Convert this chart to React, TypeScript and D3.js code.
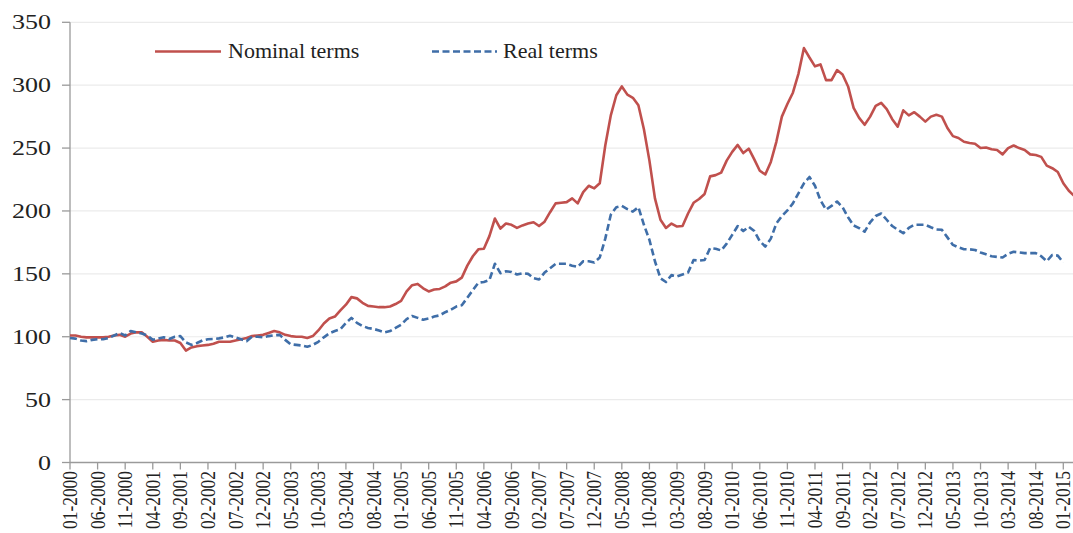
import React from "react";
import * as d3 from "d3";

const nominal: number[] = [
  101, 101, 100, 99.5, 99.5, 99.5, 99.5, 100, 101, 101.5,
  100, 102.5, 103.5, 103.5, 100, 96, 97, 97.5, 97, 97,
  95, 89, 91.5, 92.5, 93, 93.5, 94.5, 96, 96, 96,
  97, 98, 99, 100.5, 101, 101.5, 103, 104.5, 103.5, 101.5,
  100.5, 100, 100, 99, 100.5, 105, 110.5, 114.5, 116, 121,
  125.5, 131.5, 130.5, 127, 124.5, 124, 123.5, 123.5, 124, 126,
  128.5, 136, 141, 142, 138.5, 136, 137.5, 138, 140, 143,
  144, 147, 156.5, 164, 169.5, 170, 180, 194, 186, 190,
  189, 186.5, 188.5, 190, 191, 188, 191.5, 199, 206, 206.5,
  207, 210, 206, 215, 220, 218, 222, 252, 276, 292,
  299, 292.5, 290, 284, 265, 240, 210, 193, 186.5, 190,
  187.6, 188, 198, 206.5, 209.5, 213.5, 227.5, 228.5, 230.5, 240,
  247, 252.5, 246, 249.5, 241, 232, 229, 239, 255, 275,
  285, 294, 309, 329.5, 322, 315, 316.5, 304, 304, 312,
  308.5, 299, 282, 274, 268.5, 275, 283.5, 286, 281, 273,
  267, 280, 276, 278.5, 275, 271, 275, 276.5, 275, 266,
  259.5, 258, 255, 254, 253.5, 250, 250.5, 249, 248.5, 245,
  250, 252, 250, 248.5, 245, 244.5, 243, 236, 234, 231,
  222, 216, 212,
];

const real: number[] = [
  99, 98.5, 97, 96.5, 97.5, 98, 98, 99, 101, 103,
  101, 104.5, 103.5, 102.5, 101, 97.6, 98.5, 99.5, 98.2, 100,
  100.5, 95.5, 93.5, 95, 97, 98, 98.2, 98.7, 99.5, 100.8,
  99.5, 98, 96.5, 100, 100, 99.5, 100.5, 101.2, 101.5, 97.5,
  94, 93.5, 93, 92, 93.5, 96, 99.5, 102.7, 104.5, 106,
  111, 115, 111, 108.5, 107, 106.2, 105, 103.5, 104.5, 107,
  109.5, 114, 116.5, 115, 113.5, 114.5, 116, 117, 119.5, 121.5,
  124, 125, 131, 137, 143, 143.5, 145, 158, 150.5, 152,
  151.5, 149.5, 150.5, 150, 146.5, 145.5, 151, 154.5, 158, 158,
  158, 156.5, 155.5, 160, 160, 159, 163, 178, 197, 203,
  204, 201.5, 199.5, 203, 189, 177, 160, 146.5, 143.5, 149,
  148, 149.5, 151, 161, 160.5, 161, 170.5, 170, 168.6, 174,
  181, 188, 184, 187.5, 184, 176, 171.7, 178, 190, 196,
  200.5, 206, 214, 222, 227, 220, 208.5, 201, 204, 207.5,
  203, 195, 188.5, 186.3, 183.5, 191, 196, 198, 193, 188,
  185, 182.3, 186.5, 189, 189, 189, 187, 185.3, 185, 179,
  173, 171, 169.6, 169.5, 169, 167, 165.5, 164, 163.5, 163,
  166, 167.5, 167, 166.5, 166.5, 166.5, 164, 160, 165, 164.5,
  159,
];

const yTicks: number[] = [0, 50, 100, 150, 200, 250, 300, 350];
const startYear = 2000;
const labelStep = 5;
const lastLabelIndex = 180;

const W = 1073;
const H = 533;

function monthLabel(i: number): string {
  const m = (i % 12) + 1;
  const y = startYear + Math.floor(i / 12);
  return `${m < 10 ? "0" + m : m}-${y}`;
}

export default function App() {
  const x = d3.scaleLinear().domain([0, lastLabelIndex]).range([70, 1063.3]);
  const y = d3.scaleLinear().domain([0, 350]).range([462.5, 22.3]);
  const line = d3
    .line<number>()
    .x((_, i) => x(i))
    .y((d) => y(d));
  const labelIdx = d3.range(0, lastLabelIndex + 1, labelStep);
  const font = "'Liberation Serif', 'Times New Roman', serif";
  const red = "#c0504d";
  const blue = "#3f6ea8";
  return (
    <svg
      width={W}
      height={H}
      style={{ position: "absolute", left: 0, top: 0, background: "#fff" }}
      fontFamily={font}
    >
      <rect x={0} y={0} width={W} height={H} fill="#fff" />
      {yTicks.filter((t) => t > 0).map((t) => (
        <line key={"g" + t} x1={70} x2={W} y1={y(t)} y2={y(t)} stroke="#ebebeb" strokeWidth={1.2} />
      ))}
      <line x1={70} x2={70} y1={y(350)} y2={y(0)} stroke="#9a9a9a" strokeWidth={1.3} />
      <line x1={70} x2={W} y1={y(0)} y2={y(0)} stroke="#9a9a9a" strokeWidth={1.3} />
      {yTicks.map((t) => (
        <g key={"yt" + t}>
          <line x1={62} x2={70} y1={y(t)} y2={y(t)} stroke="#9a9a9a" strokeWidth={1.3} />
          <text
            transform={`translate(51,${y(t)}) scale(1.24,1)`}
            textAnchor="end"
            dominantBaseline="central"
            fontSize={21}
            fill="#222"
          >
            {t}
          </text>
        </g>
      ))}
      {labelIdx.map((i) => (
        <g key={"xt" + i}>
          <line x1={x(i)} x2={x(i)} y1={y(0)} y2={y(0) + 7} stroke="#9a9a9a" strokeWidth={1.3} />
          <text
            transform={`translate(${x(i)},471) scale(1.2,1) rotate(-90)`}
            textAnchor="end"
            dominantBaseline="central"
            fontSize={17.4}
            fill="#222"
          >
            {monthLabel(i)}
          </text>
        </g>
      ))}
      <path d={line(nominal) || ""} fill="none" stroke={red} strokeWidth={2.6} strokeLinejoin="round" />
      <path
        d={line(real) || ""}
        fill="none"
        stroke={blue}
        strokeWidth={2.6}
        strokeDasharray="7,3.5"
        strokeLinejoin="round"
      />
      <line x1={155} x2={221} y1={51.5} y2={51.5} stroke={red} strokeWidth={2.6} />
      <text x={228} y={58} fontSize={22} fill="#222">Nominal terms</text>
      <line x1={432} x2={497} y1={51.5} y2={51.5} stroke={blue} strokeWidth={2.6} strokeDasharray="7,3.5" />
      <text x={503} y={58} fontSize={22} fill="#222">Real terms</text>
    </svg>
  );
}
